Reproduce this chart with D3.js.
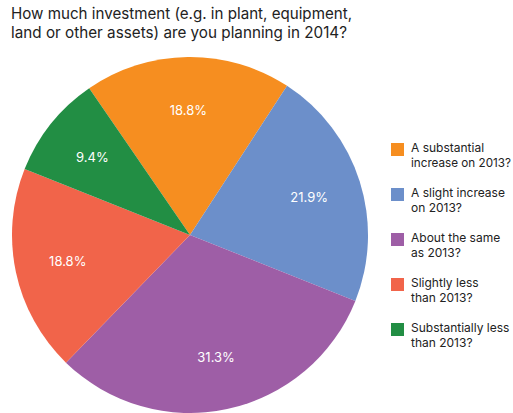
<!DOCTYPE html>
<html><head><meta charset="utf-8">
<script src="https://d3js.org/d3.v7.min.js"></script>
<style>body{margin:0;background:#fff}svg{display:block}</style>
</head><body>
<script>
const titleLines = ["How much investment (e.g. in plant, equipment,", "land or other assets) are you planning in 2014?"];
const categories = [
  ["A substantial", "increase on 2013?"],
  ["A slight increase", "on 2013?"],
  ["About the same", "as 2013?"],
  ["Slightly less", "than 2013?"],
  ["Substantially less", "than 2013?"]
];
const values = [18.8, 21.9, 31.3, 18.8, 9.4];
const labels = ["18.8%", "21.9%", "31.3%", "18.8%", "9.4%"];
const colors = ["#F68E20", "#6C8FCA", "#9E5EA6", "#F1644A", "#228E44"];

const W = 513, H = 413;
const font = "Inter, 'Noto Sans', sans-serif";
const svg = d3.select("body").append("svg").attr("width", W).attr("height", H);

// title
svg.selectAll("text.title").data(titleLines).join("text")
  .attr("class", "title")
  .attr("x", 11).attr("y", (d, i) => 18.5 + i * 19.3)
  .attr("font-family", font).attr("font-size", 15.5).attr("fill", "#222")
  .text(d => d)
  .each(function(d, i) {
    const target = i === 0 ? 341 : 336;
    d3.select(this).attr("textLength", target).attr("lengthAdjust", "spacingAndGlyphs");
  });

// pie
const cx = 190, cy = 235, R = 178;
const start = -34.5 * Math.PI / 180;
const pie = d3.pie().sort(null).value(d => d).startAngle(start).endAngle(start + 2 * Math.PI);
const arcs = pie(values);
const arc = d3.arc().innerRadius(0).outerRadius(R);
const labelArc = d3.arc().innerRadius(125).outerRadius(125);
const g = svg.append("g").attr("transform", `translate(${cx},${cy})`);
g.selectAll("path").data(arcs).join("path")
  .attr("d", arc).attr("fill", (d, i) => colors[i]);
g.selectAll("text").data(arcs).join("text")
  .attr("transform", d => `translate(${labelArc.centroid(d)})`)
  .attr("text-anchor", "middle").attr("dy", "0.35em")
  .attr("font-family", font).attr("font-size", 13).attr("fill", "#fff")
  .text((d, i) => labels[i]);

// legend
const lg = svg.append("g");
const items = lg.selectAll("g").data(categories).join("g")
  .attr("transform", (d, i) => `translate(391,${143 + i * 45})`);
items.append("rect").attr("width", 13).attr("height", 13).attr("fill", (d, i) => colors[i]);
items.each(function(d) {
  const t = d3.select(this).append("text")
    .attr("font-family", font).attr("font-size", 12).attr("fill", "#222");
  d.forEach((line, j) => {
    const ts = t.append("tspan").attr("x", 20).attr("y", 9 + j * 15).text(line);
    const w = ts.node().getComputedTextLength();
    if (w > 100) ts.attr("textLength", 100).attr("lengthAdjust", "spacingAndGlyphs");
  });
});
</script>
</body></html>
